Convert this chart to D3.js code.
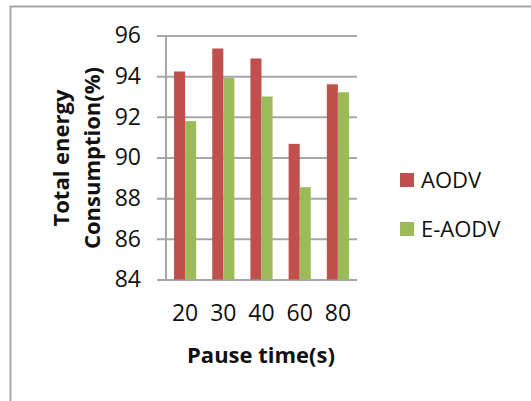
<!DOCTYPE html>
<html><head><meta charset="utf-8">
<script src="https://cdn.jsdelivr.net/npm/d3@7"></script>
<style>body{margin:0;background:#fff}svg{display:block}</style>
</head><body>
<svg id="c" width="531" height="401"></svg>
<script>
const categories = ["20","30","40","60","80"];
const seriesNames = ["AODV","E-AODV"];
const aodv = [94.23, 95.36, 94.87, 90.67, 93.6];
const eaodv = [91.79, 93.92, 93.0, 88.54, 93.21];
const yTicks = [84,86,88,90,92,94,96];
const colors = ["#C0504D","#9BBB59"];
const font = "'Open Sans', sans-serif";

const svg = d3.select("#c");
const m = {left:166, right:357, top:35.5, bottom:279.5};

// outer border
svg.append("path").attr("d","M10.5,410 V6.5 H540")
  .attr("fill","none").attr("stroke","#a6a6a6").attr("stroke-width",2);

const x = d3.scaleBand().domain(categories).range([m.left, m.right]).paddingInner(0.42).paddingOuter(0.21);
const x1 = d3.scaleBand().domain(seriesNames).range([0, x.bandwidth()]);
const y = d3.scaleLinear().domain([84,96]).range([m.bottom, m.top]);

// gridlines
const yAxis = d3.axisLeft(y).tickValues(yTicks).tickSize(m.right - m.left + 9).tickFormat(d=>d).tickPadding(16);
const gy = svg.append("g").attr("transform",`translate(${m.right},0)`).call(yAxis);
gy.select(".domain").remove();
gy.selectAll(".tick line").attr("stroke","#a6a6a6").attr("stroke-width",2);
gy.selectAll(".tick text").attr("font-family",font).attr("font-size",23).attr("fill","#111");
// vertical axis line
svg.append("line").attr("x1",m.left).attr("x2",m.left).attr("y1",m.top).attr("y2",m.bottom)
  .attr("stroke","#a6a6a6").attr("stroke-width",2);

// bars
const data = categories.map((c,i)=>({c, vals:[aodv[i], eaodv[i]]}));
const g = svg.append("g");
data.forEach(d=>{
  d.vals.forEach((v,j)=>{
    g.append("rect").attr("x", x(d.c)+x1(seriesNames[j])).attr("width", x1.bandwidth())
      .attr("y", y(v)).attr("height", y(84)-y(v)).attr("fill", colors[j]);
  });
});

// x axis labels
const xAxis = d3.axisBottom(x).tickSize(0).tickPadding(25);
const gx = svg.append("g").attr("transform",`translate(0,${m.bottom})`).call(xAxis);
gx.select(".domain").remove();
gx.selectAll(".tick text").attr("font-family",font).attr("font-size",23).attr("fill","#111");

// axis titles
svg.append("text").attr("x",261).attr("y",363).attr("text-anchor","middle")
  .attr("font-family",font).attr("font-weight","bold").attr("font-size",22).attr("fill","#111")
  .text("Pause time(s)");
const yt = svg.append("text").attr("transform","translate(0,158) rotate(-90)").attr("text-anchor","middle")
  .attr("font-family",font).attr("font-weight","bold").attr("font-size",22).attr("fill","#111");
yt.append("tspan").attr("x",0).attr("y",69).text("Total energy");
yt.append("tspan").attr("x",0).attr("y",100).text("Consumption(%)");

// legend
const lg = svg.append("g");
seriesNames.forEach((s,i)=>{
  const yy = 173 + i*49;
  lg.append("rect").attr("x",400).attr("y",yy).attr("width",14).attr("height",14).attr("fill",colors[i]);
  lg.append("text").attr("x",421).attr("y",yy+7).attr("dy","0.35em")
    .attr("font-family",font).attr("font-size",22).attr("fill","#111").text(s);
});
</script>
</body></html>
